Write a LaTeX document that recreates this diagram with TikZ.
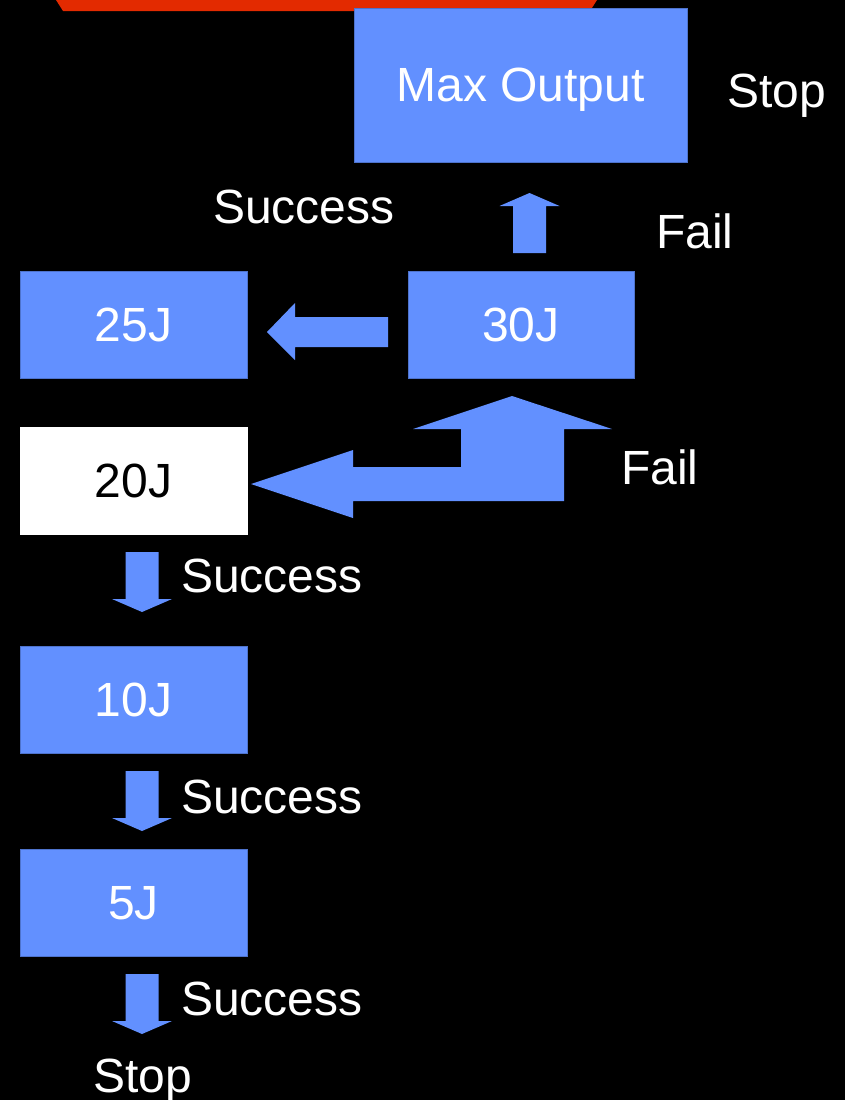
\documentclass[tikz,border=0pt]{standalone}
\usepackage{fontspec}
\setmainfont{Liberation Sans}
\usepackage{tikz}

\definecolor{boxblue}{RGB}{98,144,255}
\definecolor{bannerred}{RGB}{227,42,0}

\tikzset{
  energybox/.style={fill=boxblue,draw=boxblue!80!black,line width=0.6pt,text=white,
    minimum width=227pt,minimum height=107pt,inner sep=0pt,text depth=0pt},
  label/.style={text=white,anchor=base west,inner sep=0pt},
  downblock/.pic={
    \fill[boxblue] (-16.5,0) -- (16.5,0) -- (16.5,47) -- (30,47) -- (0,60)
      -- (-30,47) -- (-16.5,47) -- cycle;
  }
}

\begin{document}
\begin{tikzpicture}[x=1pt,y=-1pt,font=\fontsize{48}{58}\selectfont]
				\fill[black] (0,0) rectangle (845,1100);
				\useasboundingbox (0,0) rectangle (845,1100);
				\fill[bannerred] (56,0) -- (63,11) -- (590,11) -- (597,0) -- cycle;
				% boxes
				\node[energybox,minimum width=333pt,minimum height=154pt] (maxout) at (520.5,85) {Max Output};
				\node[energybox,minimum width=226pt] (j30) at (521,324.5) {30J};
				\node[energybox] (j25) at (133.5,324.5) {25J};
				\node[energybox,fill=white,draw=white,text=black] (j20) at (133.5,480.5) {20J};
				\node[energybox] (j10) at (133.5,699.5) {10J};
				\node[energybox] (j5) at (133.5,903) {5J};
				% arrows
				\pic[rotate=180] at (529.5,253) {downblock};
				\fill[boxblue] (388,317) -- (388,347) -- (295,347) -- (295,360) -- (267,332)
					-- (295,303) -- (295,317) -- cycle;
				\fill[boxblue] (251,484) -- (353,450) -- (353,467) -- (461,467) -- (461,429)
					-- (413,429) -- (512,396) -- (612,429) -- (564,429) -- (564,501)
					-- (353,501) -- (353,518) -- cycle;
				\pic at (142,552) {downblock};
				\pic at (142,771) {downblock};
				\pic at (142,974) {downblock};
				% labels
				\node[label] (stoptop) at (727,107) {Stop};
				\node[label] (succ30) at (213,223) {Success};
				\node[label] (fail30) at (656,248) {Fail};
				\node[label] (fail20) at (621,484) {Fail};
				\node[label] (succ20) at (181,592) {Success};
				\node[label] (succ10) at (181,813) {Success};
				\node[label] (succ5) at (181,1015) {Success};
				\node[label] (stopend) at (93,1092) {Stop};
			\end{tikzpicture}
\end{document}
